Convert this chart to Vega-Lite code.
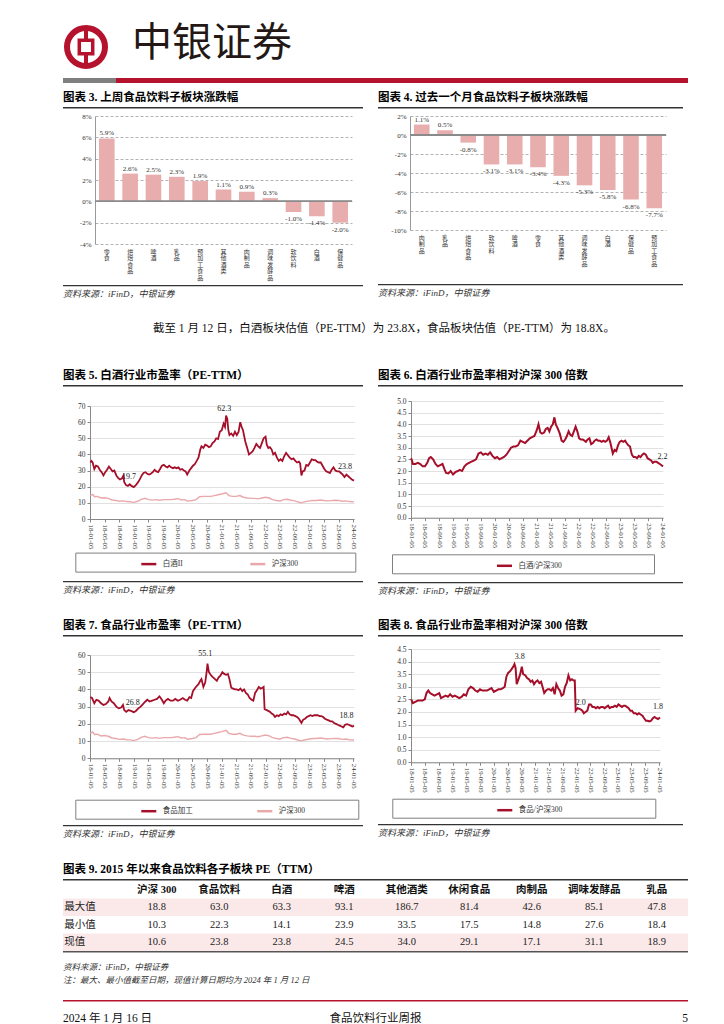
{
"$schema":"https://vega.github.io/schema/vega-lite/v6.json",
"background":"white",
"padding":{"left":55,"top":16,"right":10,"bottom":0},
"spacing":0,
"resolve":{"scale":{"color":"independent"},"legend":{"color":"independent"}},
"config":{"view":{"stroke":null},"concat":{"spacing":0},"font":"Liberation Serif, Noto Sans CJK SC",
"title":{"anchor":"start","frame":"group","font":"Liberation Serif, Noto Sans CJK SC","fontSize":11.5,"fontWeight":"bold","color":"#000","offset":4,"baseline":"bottom"},
"axis":{"labelFont":"Liberation Serif, Noto Sans CJK SC","labelColor":"#333","labelOverlap":false,"labelBound":false},
"legend":{"labelFont":"Liberation Serif, Noto Sans CJK SC","labelColor":"#333","titleFont":"Liberation Serif, Noto Sans CJK SC"},
"text":{"font":"Liberation Serif, Noto Sans CJK SC"},
"locale":{"number":{"decimal":".","thousands":",","grouping":[3],"currency":["",""],"minus":"-"}}},
"datasets":{
"w1":[{"k":"零食","v":0.059},{"k":"烘焙食品","v":0.026},{"k":"啤酒","v":0.025},{"k":"乳品","v":0.023},{"k":"预加工食品","v":0.019},{"k":"其他酒类","v":0.011},{"k":"肉制品","v":0.009},{"k":"调味发酵品","v":0.003},{"k":"软饮料","v":-0.010},{"k":"白酒","v":-0.014},{"k":"保健品","v":-0.020}],
"w4":[{"k":"肉制品","v":0.011},{"k":"乳品","v":0.005},{"k":"烘焙食品","v":-0.008},{"k":"软饮料","v":-0.031},{"k":"啤酒","v":-0.031},{"k":"零食","v":-0.034},{"k":"其他酒类","v":-0.043},{"k":"调味发酵品","v":-0.053},{"k":"白酒","v":-0.058},{"k":"保健品","v":-0.068},{"k":"预加工食品","v":-0.077}],
"bj":[{"d":"2018-01-05","v":35},{"d":"2018-01-15","v":36},{"d":"2018-01-25","v":35},{"d":"2018-02-08","v":31},{"d":"2018-02-22","v":33},{"d":"2018-03-10","v":32.5},{"d":"2018-03-25","v":30.5},{"d":"2018-04-10","v":29},{"d":"2018-04-25","v":27},{"d":"2018-05-10","v":29},{"d":"2018-05-25","v":30.5},{"d":"2018-06-10","v":32.5},{"d":"2018-06-25","v":31},{"d":"2018-07-10","v":29.5},{"d":"2018-07-25","v":30},{"d":"2018-08-10","v":27},{"d":"2018-08-25","v":25.5},{"d":"2018-09-10","v":24.5},{"d":"2018-09-25","v":25},{"d":"2018-10-08","v":26.8},{"d":"2018-10-15","v":23},{"d":"2018-10-30","v":21},{"d":"2018-11-15","v":20.5},{"d":"2018-11-30","v":21.5},{"d":"2018-12-15","v":20.5},{"d":"2019-01-03","v":19.7},{"d":"2019-01-20","v":21},{"d":"2019-02-10","v":23},{"d":"2019-02-25","v":25},{"d":"2019-03-10","v":27},{"d":"2019-03-25","v":28.5},{"d":"2019-04-10","v":29},{"d":"2019-04-25","v":28},{"d":"2019-05-10","v":27.5},{"d":"2019-05-25","v":28},{"d":"2019-06-10","v":29},{"d":"2019-06-25","v":30.5},{"d":"2019-07-10","v":29.5},{"d":"2019-07-25","v":29},{"d":"2019-08-10","v":31},{"d":"2019-08-25","v":33},{"d":"2019-09-10","v":33.5},{"d":"2019-09-25","v":32.5},{"d":"2019-10-10","v":32},{"d":"2019-10-25","v":33},{"d":"2019-11-10","v":32},{"d":"2019-11-25","v":31.5},{"d":"2019-12-10","v":32},{"d":"2019-12-25","v":31.5},{"d":"2020-01-10","v":32},{"d":"2020-01-25","v":30.5},{"d":"2020-02-10","v":31},{"d":"2020-02-25","v":30},{"d":"2020-03-10","v":29.5},{"d":"2020-03-23","v":27.5},{"d":"2020-04-10","v":30},{"d":"2020-04-25","v":31.5},{"d":"2020-05-10","v":33},{"d":"2020-05-25","v":34},{"d":"2020-06-10","v":36},{"d":"2020-06-25","v":38},{"d":"2020-07-10","v":43},{"d":"2020-07-20","v":45},{"d":"2020-08-05","v":44},{"d":"2020-08-20","v":46},{"d":"2020-09-05","v":45.5},{"d":"2020-09-20","v":44.5},{"d":"2020-10-05","v":45},{"d":"2020-10-20","v":47},{"d":"2020-11-05","v":48},{"d":"2020-11-20","v":50},{"d":"2020-12-05","v":49.5},{"d":"2020-12-20","v":54},{"d":"2021-01-05","v":55},{"d":"2021-01-20","v":59},{"d":"2021-02-01","v":57},{"d":"2021-02-10","v":64},{"d":"2021-02-20","v":62},{"d":"2021-03-01","v":55},{"d":"2021-03-10","v":52},{"d":"2021-03-25","v":53},{"d":"2021-04-10","v":51.5},{"d":"2021-04-25","v":54},{"d":"2021-05-10","v":52},{"d":"2021-05-25","v":54},{"d":"2021-06-08","v":60},{"d":"2021-06-20","v":57},{"d":"2021-07-01","v":55},{"d":"2021-07-20","v":48},{"d":"2021-08-05","v":44},{"d":"2021-08-20","v":40},{"d":"2021-09-05","v":41},{"d":"2021-09-20","v":42},{"d":"2021-10-05","v":44},{"d":"2021-10-20","v":46.5},{"d":"2021-11-05","v":45},{"d":"2021-11-20","v":44},{"d":"2021-12-05","v":47},{"d":"2021-12-20","v":50},{"d":"2022-01-05","v":51},{"d":"2022-01-15","v":46},{"d":"2022-01-28","v":44},{"d":"2022-02-10","v":44.5},{"d":"2022-02-25","v":43},{"d":"2022-03-10","v":40},{"d":"2022-03-25","v":41},{"d":"2022-04-10","v":38},{"d":"2022-04-25","v":36},{"d":"2022-05-10","v":37},{"d":"2022-05-25","v":36},{"d":"2022-06-10","v":39},{"d":"2022-06-25","v":41},{"d":"2022-07-10","v":39.5},{"d":"2022-07-25","v":38},{"d":"2022-08-10","v":37},{"d":"2022-08-25","v":37.5},{"d":"2022-09-10","v":36},{"d":"2022-09-25","v":35},{"d":"2022-10-10","v":35.5},{"d":"2022-10-20","v":34.5},{"d":"2022-10-31","v":27},{"d":"2022-11-10","v":29.5},{"d":"2022-11-25","v":30},{"d":"2022-12-10","v":33.5},{"d":"2022-12-25","v":33},{"d":"2023-01-10","v":35},{"d":"2023-01-25","v":37},{"d":"2023-02-10","v":36.5},{"d":"2023-02-25","v":36.5},{"d":"2023-03-10","v":35.5},{"d":"2023-03-25","v":35},{"d":"2023-04-10","v":35},{"d":"2023-04-25","v":33},{"d":"2023-05-10","v":31},{"d":"2023-05-25","v":29.5},{"d":"2023-06-10","v":29},{"d":"2023-06-25","v":28.5},{"d":"2023-07-10","v":30.5},{"d":"2023-07-25","v":32},{"d":"2023-08-10","v":30},{"d":"2023-08-25","v":29.5},{"d":"2023-09-10","v":29.5},{"d":"2023-09-25","v":28.5},{"d":"2023-10-10","v":27.5},{"d":"2023-10-25","v":26},{"d":"2023-11-10","v":27.5},{"d":"2023-11-25","v":26.5},{"d":"2023-12-10","v":25.5},{"d":"2023-12-25","v":24.5},{"d":"2024-01-12","v":23.8}],
"hs":[{"d":"2018-01-05","v":14.5},{"d":"2018-01-25","v":15.3},{"d":"2018-02-10","v":13.8},{"d":"2018-03-05","v":14},{"d":"2018-04-05","v":13},{"d":"2018-05-05","v":13.2},{"d":"2018-06-05","v":12.8},{"d":"2018-07-05","v":11.8},{"d":"2018-08-05","v":11.5},{"d":"2018-09-05","v":11},{"d":"2018-10-05","v":11.2},{"d":"2018-11-05","v":10.8},{"d":"2018-12-05","v":10.7},{"d":"2019-01-03","v":10.3},{"d":"2019-02-05","v":11},{"d":"2019-03-05","v":12.2},{"d":"2019-04-05","v":12.8},{"d":"2019-05-05","v":12},{"d":"2019-06-05","v":11.7},{"d":"2019-07-05","v":12},{"d":"2019-08-05","v":11.6},{"d":"2019-09-05","v":12},{"d":"2019-10-05","v":12},{"d":"2019-11-05","v":12},{"d":"2019-12-05","v":12.2},{"d":"2020-01-05","v":12.6},{"d":"2020-02-05","v":11.8},{"d":"2020-03-05","v":12},{"d":"2020-03-25","v":11},{"d":"2020-04-05","v":11.2},{"d":"2020-05-05","v":11.5},{"d":"2020-06-05","v":12},{"d":"2020-07-05","v":13.8},{"d":"2020-08-05","v":14},{"d":"2020-09-05","v":14},{"d":"2020-10-05","v":14},{"d":"2020-11-05","v":14.5},{"d":"2020-12-05","v":15},{"d":"2021-01-05","v":15.5},{"d":"2021-02-10","v":16.2},{"d":"2021-03-05","v":14.5},{"d":"2021-04-05","v":14},{"d":"2021-05-05","v":14},{"d":"2021-06-05","v":14.5},{"d":"2021-07-05","v":13.5},{"d":"2021-08-05","v":13},{"d":"2021-09-05","v":12.8},{"d":"2021-10-05","v":12.8},{"d":"2021-11-05","v":12.5},{"d":"2021-12-05","v":13},{"d":"2022-01-05","v":13.5},{"d":"2022-02-05","v":13},{"d":"2022-03-05","v":12},{"d":"2022-04-05","v":11.5},{"d":"2022-05-05","v":11.2},{"d":"2022-06-05","v":12},{"d":"2022-07-05","v":12.2},{"d":"2022-08-05","v":11.6},{"d":"2022-09-05","v":11.2},{"d":"2022-10-05","v":10.5},{"d":"2022-10-31","v":10},{"d":"2022-11-15","v":10.5},{"d":"2022-12-05","v":10.8},{"d":"2023-01-05","v":11.2},{"d":"2023-02-05","v":11.5},{"d":"2023-03-05","v":11.5},{"d":"2023-04-05","v":11.8},{"d":"2023-05-05","v":11.5},{"d":"2023-06-05","v":11.2},{"d":"2023-07-05","v":11.4},{"d":"2023-08-05","v":11.6},{"d":"2023-09-05","v":11.5},{"d":"2023-10-05","v":11},{"d":"2023-11-05","v":11.2},{"d":"2023-12-05","v":10.8},{"d":"2024-01-12","v":10.6}],
"bjr":[{"d":"2018-01-05","v":2.55},{"d":"2018-01-20","v":2.3},{"d":"2018-02-10","v":2.3},{"d":"2018-03-05","v":2.35},{"d":"2018-03-25","v":2.3},{"d":"2018-04-15","v":2.2},{"d":"2018-05-05","v":2.2},{"d":"2018-05-25","v":2.35},{"d":"2018-06-10","v":2.55},{"d":"2018-06-25","v":2.6},{"d":"2018-07-15","v":2.5},{"d":"2018-08-05","v":2.3},{"d":"2018-08-25","v":2.2},{"d":"2018-09-15","v":2.25},{"d":"2018-10-05","v":2.3},{"d":"2018-10-20","v":2.1},{"d":"2018-11-05","v":1.92},{"d":"2018-11-25","v":1.9},{"d":"2018-12-15","v":2.0},{"d":"2019-01-05","v":1.85},{"d":"2019-01-25","v":1.95},{"d":"2019-02-15","v":2.0},{"d":"2019-03-05","v":2.05},{"d":"2019-03-25","v":2.0},{"d":"2019-04-15","v":2.2},{"d":"2019-05-05","v":2.3},{"d":"2019-05-25","v":2.35},{"d":"2019-06-15","v":2.4},{"d":"2019-07-05","v":2.45},{"d":"2019-07-25","v":2.5},{"d":"2019-08-15","v":2.75},{"d":"2019-09-05","v":2.8},{"d":"2019-09-25","v":2.7},{"d":"2019-10-15","v":2.75},{"d":"2019-11-05","v":2.7},{"d":"2019-11-25","v":2.8},{"d":"2019-12-15","v":2.65},{"d":"2020-01-05","v":2.55},{"d":"2020-01-25","v":2.6},{"d":"2020-02-15","v":2.5},{"d":"2020-03-05","v":2.55},{"d":"2020-03-25","v":2.6},{"d":"2020-04-15","v":2.7},{"d":"2020-05-05","v":2.85},{"d":"2020-05-25","v":3.0},{"d":"2020-06-15","v":3.05},{"d":"2020-07-05","v":3.05},{"d":"2020-07-25","v":3.1},{"d":"2020-08-15","v":3.3},{"d":"2020-09-05","v":3.25},{"d":"2020-09-25","v":3.2},{"d":"2020-10-15","v":3.3},{"d":"2020-11-05","v":3.4},{"d":"2020-11-25","v":3.45},{"d":"2020-12-15","v":3.5},{"d":"2021-01-05","v":3.75},{"d":"2021-01-20","v":4.0},{"d":"2021-02-05","v":3.65},{"d":"2021-02-20","v":3.6},{"d":"2021-03-10","v":3.65},{"d":"2021-03-25","v":3.8},{"d":"2021-04-10","v":3.85},{"d":"2021-04-25","v":3.7},{"d":"2021-05-10","v":3.9},{"d":"2021-05-25","v":4.0},{"d":"2021-06-08","v":4.3},{"d":"2021-06-20","v":4.0},{"d":"2021-07-05","v":3.85},{"d":"2021-07-25","v":3.6},{"d":"2021-08-10","v":3.3},{"d":"2021-08-25","v":3.25},{"d":"2021-09-10","v":3.35},{"d":"2021-09-25","v":3.5},{"d":"2021-10-10","v":3.7},{"d":"2021-10-25","v":3.55},{"d":"2021-11-10","v":3.5},{"d":"2021-11-25","v":3.7},{"d":"2021-12-10","v":3.9},{"d":"2021-12-25","v":3.7},{"d":"2022-01-10","v":3.4},{"d":"2022-01-25","v":3.35},{"d":"2022-02-10","v":3.35},{"d":"2022-02-25","v":3.3},{"d":"2022-03-10","v":3.25},{"d":"2022-03-25","v":3.35},{"d":"2022-04-10","v":3.4},{"d":"2022-04-25","v":3.15},{"d":"2022-05-10","v":3.2},{"d":"2022-05-25","v":3.3},{"d":"2022-06-10","v":3.35},{"d":"2022-06-25","v":3.3},{"d":"2022-07-10","v":3.3},{"d":"2022-07-25","v":3.25},{"d":"2022-08-10","v":3.3},{"d":"2022-08-25","v":3.25},{"d":"2022-09-10","v":3.3},{"d":"2022-09-25","v":3.45},{"d":"2022-10-10","v":3.2},{"d":"2022-10-31","v":2.75},{"d":"2022-11-15","v":2.9},{"d":"2022-11-30","v":2.85},{"d":"2022-12-15","v":3.1},{"d":"2022-12-30","v":3.25},{"d":"2023-01-15","v":3.3},{"d":"2023-01-30","v":3.25},{"d":"2023-02-15","v":3.3},{"d":"2023-02-28","v":3.2},{"d":"2023-03-15","v":3.1},{"d":"2023-03-30","v":3.05},{"d":"2023-04-15","v":2.7},{"d":"2023-04-30","v":2.6},{"d":"2023-05-15","v":2.6},{"d":"2023-05-30","v":2.55},{"d":"2023-06-15","v":2.65},{"d":"2023-06-30","v":2.6},{"d":"2023-07-15","v":2.7},{"d":"2023-07-30","v":2.75},{"d":"2023-08-15","v":2.7},{"d":"2023-08-30","v":2.55},{"d":"2023-09-15","v":2.5},{"d":"2023-09-30","v":2.45},{"d":"2023-10-15","v":2.35},{"d":"2023-10-30","v":2.4},{"d":"2023-11-15","v":2.4},{"d":"2023-11-30","v":2.35},{"d":"2023-12-15","v":2.3},{"d":"2023-12-30","v":2.25},{"d":"2024-01-12","v":2.2}],
"sp":[{"d":"2018-01-05","v":35.5},{"d":"2018-01-20","v":35},{"d":"2018-02-08","v":32},{"d":"2018-02-25","v":34},{"d":"2018-03-15","v":33.5},{"d":"2018-04-05","v":32},{"d":"2018-04-25","v":31},{"d":"2018-05-15","v":31.5},{"d":"2018-06-05","v":33},{"d":"2018-06-15","v":35},{"d":"2018-07-01","v":33},{"d":"2018-07-20","v":32},{"d":"2018-08-10","v":30},{"d":"2018-08-30","v":29},{"d":"2018-09-20","v":29.5},{"d":"2018-10-05","v":31},{"d":"2018-10-15","v":28},{"d":"2018-11-01","v":27},{"d":"2018-11-20","v":28},{"d":"2018-12-10","v":27.5},{"d":"2019-01-03","v":26.8},{"d":"2019-01-20","v":27.5},{"d":"2019-02-10","v":29},{"d":"2019-03-01","v":30},{"d":"2019-03-20","v":31.5},{"d":"2019-04-10","v":33},{"d":"2019-04-25","v":34},{"d":"2019-05-15","v":33},{"d":"2019-06-05","v":33.5},{"d":"2019-06-25","v":34},{"d":"2019-07-15","v":34.5},{"d":"2019-08-05","v":36},{"d":"2019-08-25","v":34},{"d":"2019-09-10","v":32},{"d":"2019-09-25","v":33.5},{"d":"2019-10-15","v":34.5},{"d":"2019-11-05","v":33.5},{"d":"2019-11-25","v":33.5},{"d":"2019-12-15","v":34.5},{"d":"2020-01-05","v":33.5},{"d":"2020-01-25","v":34},{"d":"2020-02-15","v":35},{"d":"2020-03-05","v":34},{"d":"2020-03-23","v":33.5},{"d":"2020-04-10","v":35.5},{"d":"2020-04-25","v":35},{"d":"2020-05-10","v":39},{"d":"2020-05-25","v":40.5},{"d":"2020-06-10","v":42},{"d":"2020-06-25","v":43},{"d":"2020-07-10","v":45},{"d":"2020-07-20","v":46},{"d":"2020-08-05","v":41.5},{"d":"2020-08-20","v":44},{"d":"2020-09-01","v":50},{"d":"2020-09-08","v":55},{"d":"2020-09-20","v":50},{"d":"2020-10-10","v":48},{"d":"2020-10-25","v":47},{"d":"2020-11-10","v":46},{"d":"2020-11-25","v":45},{"d":"2020-12-10","v":47},{"d":"2020-12-25","v":48},{"d":"2021-01-10","v":50},{"d":"2021-01-25","v":49},{"d":"2021-02-10","v":48.5},{"d":"2021-02-25","v":49},{"d":"2021-03-10","v":46},{"d":"2021-03-25","v":41},{"d":"2021-04-10","v":40.5},{"d":"2021-04-25","v":40},{"d":"2021-05-10","v":40},{"d":"2021-05-25","v":39.5},{"d":"2021-06-10","v":40.5},{"d":"2021-06-25","v":39},{"d":"2021-07-10","v":40},{"d":"2021-07-25","v":38},{"d":"2021-08-10","v":37},{"d":"2021-08-25","v":35},{"d":"2021-09-10","v":34},{"d":"2021-09-25","v":33.5},{"d":"2021-10-10","v":38},{"d":"2021-10-25","v":39.5},{"d":"2021-11-10","v":41.5},{"d":"2021-11-25","v":40.5},{"d":"2021-12-10","v":41},{"d":"2021-12-20","v":41.5},{"d":"2021-12-28","v":28.5},{"d":"2022-01-15","v":28},{"d":"2022-02-10","v":27},{"d":"2022-02-25","v":26},{"d":"2022-03-10","v":25.5},{"d":"2022-03-25","v":24},{"d":"2022-04-10","v":25},{"d":"2022-04-25","v":24.5},{"d":"2022-05-10","v":25.5},{"d":"2022-05-25","v":25},{"d":"2022-06-10","v":26},{"d":"2022-06-25","v":25.5},{"d":"2022-07-10","v":27},{"d":"2022-07-25","v":25.5},{"d":"2022-08-10","v":25},{"d":"2022-08-25","v":25},{"d":"2022-09-10","v":24.5},{"d":"2022-09-25","v":24},{"d":"2022-10-10","v":23},{"d":"2022-10-31","v":20.5},{"d":"2022-11-15","v":22.5},{"d":"2022-11-30","v":23},{"d":"2022-12-15","v":24},{"d":"2022-12-30","v":24.5},{"d":"2023-01-15","v":25},{"d":"2023-01-30","v":24.5},{"d":"2023-02-15","v":25},{"d":"2023-02-28","v":25},{"d":"2023-03-15","v":25},{"d":"2023-03-30","v":24.5},{"d":"2023-04-15","v":24.5},{"d":"2023-04-30","v":24},{"d":"2023-05-15","v":23},{"d":"2023-05-30","v":22.5},{"d":"2023-06-15","v":22},{"d":"2023-06-30","v":21.5},{"d":"2023-07-15","v":21.5},{"d":"2023-07-30","v":20.5},{"d":"2023-08-15","v":20},{"d":"2023-08-30","v":19.5},{"d":"2023-09-15","v":19},{"d":"2023-09-30","v":18.5},{"d":"2023-10-15","v":18},{"d":"2023-10-30","v":19.5},{"d":"2023-11-15","v":19.8},{"d":"2023-11-30","v":19.5},{"d":"2023-12-15","v":19},{"d":"2023-12-30","v":18.5},{"d":"2024-01-12","v":18.8}],
"spr":[{"d":"2018-01-05","v":2.5},{"d":"2018-01-20","v":2.35},{"d":"2018-02-10","v":2.4},{"d":"2018-03-05","v":2.45},{"d":"2018-03-25","v":2.45},{"d":"2018-04-15","v":2.45},{"d":"2018-05-05","v":2.5},{"d":"2018-05-20","v":2.75},{"d":"2018-06-05","v":2.85},{"d":"2018-06-20","v":2.75},{"d":"2018-07-10","v":2.7},{"d":"2018-07-30","v":2.65},{"d":"2018-08-20","v":2.7},{"d":"2018-09-10","v":2.75},{"d":"2018-09-25","v":2.55},{"d":"2018-10-15","v":2.6},{"d":"2018-11-05","v":2.65},{"d":"2018-11-25","v":2.6},{"d":"2018-12-15","v":2.7},{"d":"2019-01-05","v":2.6},{"d":"2019-01-25","v":2.65},{"d":"2019-02-15","v":2.6},{"d":"2019-03-05","v":2.55},{"d":"2019-03-25","v":2.6},{"d":"2019-04-15","v":2.7},{"d":"2019-05-05","v":2.65},{"d":"2019-05-25","v":2.9},{"d":"2019-06-15","v":3.0},{"d":"2019-07-05","v":2.95},{"d":"2019-07-25","v":2.85},{"d":"2019-08-15","v":2.8},{"d":"2019-09-05","v":2.9},{"d":"2019-09-25","v":2.85},{"d":"2019-10-15","v":2.85},{"d":"2019-11-05","v":2.85},{"d":"2019-11-25","v":2.9},{"d":"2019-12-15","v":2.95},{"d":"2020-01-05","v":2.8},{"d":"2020-01-25","v":2.85},{"d":"2020-02-15","v":2.9},{"d":"2020-03-05","v":2.9},{"d":"2020-03-25","v":2.95},{"d":"2020-04-10","v":3.0},{"d":"2020-04-25","v":3.4},{"d":"2020-05-10","v":3.55},{"d":"2020-05-25","v":3.6},{"d":"2020-06-10","v":3.7},{"d":"2020-06-25","v":3.8},{"d":"2020-07-05","v":3.9},{"d":"2020-07-15","v":3.75},{"d":"2020-07-25","v":3.1},{"d":"2020-08-10","v":3.3},{"d":"2020-08-25","v":3.5},{"d":"2020-09-08","v":3.8},{"d":"2020-09-20","v":3.5},{"d":"2020-10-10","v":3.45},{"d":"2020-10-25","v":3.35},{"d":"2020-11-10","v":3.3},{"d":"2020-11-25","v":3.2},{"d":"2020-12-10","v":3.25},{"d":"2020-12-25","v":3.1},{"d":"2021-01-10","v":3.2},{"d":"2021-01-25","v":3.25},{"d":"2021-02-10","v":3.15},{"d":"2021-02-25","v":3.2},{"d":"2021-03-10","v":3.0},{"d":"2021-03-25","v":2.75},{"d":"2021-04-10","v":2.85},{"d":"2021-04-25","v":2.9},{"d":"2021-05-10","v":2.9},{"d":"2021-05-25","v":2.85},{"d":"2021-06-10","v":2.95},{"d":"2021-06-25","v":2.7},{"d":"2021-07-10","v":3.1},{"d":"2021-07-25","v":2.95},{"d":"2021-08-10","v":2.85},{"d":"2021-08-25","v":2.65},{"d":"2021-09-10","v":2.7},{"d":"2021-09-25","v":3.0},{"d":"2021-10-10","v":3.15},{"d":"2021-10-25","v":3.45},{"d":"2021-11-10","v":3.25},{"d":"2021-11-25","v":3.3},{"d":"2021-12-10","v":3.25},{"d":"2021-12-20","v":3.25},{"d":"2021-12-28","v":2.05},{"d":"2022-01-15","v":2.15},{"d":"2022-02-10","v":2.1},{"d":"2022-02-25","v":2.05},{"d":"2022-03-10","v":1.95},{"d":"2022-03-25","v":2.0},{"d":"2022-04-10","v":2.05},{"d":"2022-04-25","v":2.3},{"d":"2022-05-10","v":2.3},{"d":"2022-05-25","v":2.2},{"d":"2022-06-10","v":2.2},{"d":"2022-06-25","v":2.15},{"d":"2022-07-10","v":2.2},{"d":"2022-07-25","v":2.15},{"d":"2022-08-10","v":2.2},{"d":"2022-08-25","v":2.2},{"d":"2022-09-10","v":2.15},{"d":"2022-09-25","v":2.2},{"d":"2022-10-10","v":2.25},{"d":"2022-10-25","v":2.15},{"d":"2022-11-10","v":2.2},{"d":"2022-11-25","v":2.2},{"d":"2022-12-10","v":2.25},{"d":"2022-12-25","v":2.2},{"d":"2023-01-10","v":2.3},{"d":"2023-01-25","v":2.25},{"d":"2023-02-10","v":2.2},{"d":"2023-02-25","v":2.25},{"d":"2023-03-10","v":2.25},{"d":"2023-03-25","v":2.2},{"d":"2023-04-10","v":2.15},{"d":"2023-04-25","v":2.05},{"d":"2023-05-10","v":2.05},{"d":"2023-05-25","v":1.95},{"d":"2023-06-10","v":1.95},{"d":"2023-06-25","v":1.9},{"d":"2023-07-10","v":1.95},{"d":"2023-07-25","v":1.9},{"d":"2023-08-10","v":1.85},{"d":"2023-08-25","v":1.75},{"d":"2023-09-10","v":1.65},{"d":"2023-09-25","v":1.65},{"d":"2023-10-10","v":1.62},{"d":"2023-10-25","v":1.65},{"d":"2023-11-10","v":1.75},{"d":"2023-11-25","v":1.8},{"d":"2023-12-10","v":1.75},{"d":"2023-12-25","v":1.72},{"d":"2024-01-12","v":1.78}],
"a5":[{"d":"2021-01-25","v":68.3,"t":"62.3"},{"d":"2018-11-25","v":26,"t":"19.7"},{"d":"2023-10-30","v":32.3,"t":"23.8"}],
"a6":[{"d":"2024-01-08","v":2.61,"t":"2.2"}],
"a7":[{"d":"2020-08-20","v":60.5,"t":"55.1"},{"d":"2018-12-25","v":32.3,"t":"26.8"},{"d":"2023-11-10","v":24.8,"t":"18.8"}],
"a8":[{"d":"2020-08-20","v":4.17,"t":"3.8"},{"d":"2022-02-10","v":2.34,"t":"2.0"},{"d":"2023-12-25","v":2.19,"t":"1.8"}],
"tbl":[{"r":"最大值","c":"沪深 300","v":18.8},{"r":"最小值","c":"沪深 300","v":10.3},{"r":"现值","c":"沪深 300","v":10.6},
{"r":"最大值","c":"食品饮料","v":63.0},{"r":"最小值","c":"食品饮料","v":22.3},{"r":"现值","c":"食品饮料","v":23.8},
{"r":"最大值","c":"白酒","v":63.3},{"r":"最小值","c":"白酒","v":14.1},{"r":"现值","c":"白酒","v":23.8},
{"r":"最大值","c":"啤酒","v":93.1},{"r":"最小值","c":"啤酒","v":23.9},{"r":"现值","c":"啤酒","v":24.5},
{"r":"最大值","c":"其他酒类","v":186.7},{"r":"最小值","c":"其他酒类","v":33.5},{"r":"现值","c":"其他酒类","v":34.0},
{"r":"最大值","c":"休闲食品","v":81.4},{"r":"最小值","c":"休闲食品","v":17.5},{"r":"现值","c":"休闲食品","v":29.1},
{"r":"最大值","c":"肉制品","v":42.6},{"r":"最小值","c":"肉制品","v":14.8},{"r":"现值","c":"肉制品","v":17.1},
{"r":"最大值","c":"调味发酵品","v":85.1},{"r":"最小值","c":"调味发酵品","v":27.6},{"r":"现值","c":"调味发酵品","v":31.1},
{"r":"最大值","c":"乳品","v":47.8},{"r":"最小值","c":"乳品","v":18.4},{"r":"现值","c":"乳品","v":18.9}]
},
"vconcat":[
{"hconcat":[
 {"width":46,"height":46,"data":{"values":[{}]},"layer":[
  {"mark":{"type":"point","shape":"circle","size":1444,"filled":false,"stroke":"#b5122e","strokeWidth":6,"opacity":1}},
  {"mark":{"type":"point","shape":"stroke","angle":90,"size":1444,"filled":false,"stroke":"#b5122e","strokeWidth":4,"opacity":1}},
  {"mark":{"type":"point","shape":"square","size":180,"filled":true,"fill":"#ffffff","stroke":"#b5122e","strokeWidth":3.5,"opacity":1}}
 ]},
 {"width":180,"height":46,"data":{"values":[{"t":"中银证券"}]},"mark":{"type":"text","font":"Noto Sans CJK SC","fontSize":40,"dy":-3,"color":"#231815","align":"center","baseline":"middle"},"encoding":{"text":{"field":"t"}}}
],"spacing":5},
{"hconcat":[
 {"width":53,"height":5,"data":{"values":[{}]},"mark":{"type":"rect","color":"#7f7f7f"}},
 {"width":572,"height":5,"data":{"values":[{}]},"mark":{"type":"rect","color":"#b5122e"}}
],"spacing":0},
{"width":1,"height":8,"data":{"values":[{}]},"mark":{"type":"rect","opacity":0}},
{"hconcat":[
 {"vconcat":[
  {"width":300,"height":1.5,"data":{"values":[{}]},"mark":{"type":"rect","color":"#333"},"title":{"text":"图表 3. 上周食品饮料子板块涨跌幅"}},
  {"width":1,"height":3,"data":{"values":[{}]},"mark":{"type":"rect","opacity":0}},
  {"hconcat":[
   {"width":1,"height":1,"data":{"values":[{}]},"mark":{"type":"rect","opacity":0}},
   {"width":257,"height":128,"data":{"name":"w1"},
   "layer":[
    {"mark":{"type":"bar","color":"#e8aeae"},"encoding":{
      "x":{"field":"k","type":"nominal","sort":null,"scale":{"paddingInner":0.33,"paddingOuter":0.17},"axis":{"title":null,"domain":false,"ticks":false,"labelAngle":0,"labelExpr":"split(datum.label,'')","labelFont":"Noto Sans CJK SC","labelFontSize":6,"labelLineHeight":6.6,"labelBaseline":"top","labelPadding":4,"labelOverlap":false,"minExtent":36,"maxExtent":36}},
      "y":{"field":"v","type":"quantitative","scale":{"domain":[-0.04,0.08]},"axis":{"title":null,"values":[-0.04,-0.02,0,0.02,0.04,0.06,0.08],"tickCount":100,"format":".0%","grid":true,"gridDash":[3,2],"gridColor":"#808080","gridWidth":0.6,"domainColor":"#999","ticks":false,"labelFontSize":7,"labelPadding":4,"labelOverlap":false,"minExtent":31,"maxExtent":31}}}},
    {"transform":[{"filter":"datum.v>=0"}],"mark":{"type":"text","baseline":"bottom","dy":-2,"fontSize":7,"color":"#333"},"encoding":{"x":{"field":"k","type":"nominal","sort":null},"y":{"field":"v","type":"quantitative"},"text":{"field":"v","format":".1%"}}},
    {"transform":[{"filter":"datum.v<0"}],"mark":{"type":"text","baseline":"top","dy":3,"fontSize":7,"color":"#333"},"encoding":{"x":{"field":"k","type":"nominal","sort":null},"y":{"field":"v","type":"quantitative"},"text":{"field":"v","format":".1%"}}},
    {"mark":{"type":"rule","color":"#8c8c8c","strokeWidth":0.8},"encoding":{"y":{"datum":0,"type":"quantitative"}}}
   ]}
  ],"spacing":0},
  {"width":1,"height":4,"data":{"values":[{}]},"mark":{"type":"rect","opacity":0}},
  {"width":300,"height":1.2,"data":{"values":[{}]},"mark":{"type":"rect","color":"#333"},"title":{"text":"资料来源：iFinD，中银证券","orient":"bottom","baseline":"top","fontWeight":"normal","fontStyle":"italic","fontSize":9,"color":"#333","offset":4}}
 ],"spacing":0},
 {"vconcat":[
  {"width":305,"height":1.5,"data":{"values":[{}]},"mark":{"type":"rect","color":"#333"},"title":{"text":"图表 4. 过去一个月食品饮料子板块涨跌幅"}},
  {"width":1,"height":3,"data":{"values":[{}]},"mark":{"type":"rect","opacity":0}},
  {"hconcat":[
   {"width":1,"height":1,"data":{"values":[{}]},"mark":{"type":"rect","opacity":0}},
   {"width":256,"height":114,"data":{"name":"w4"},
   "layer":[
    {"mark":{"type":"bar","color":"#e8aeae"},"encoding":{
      "x":{"field":"k","type":"nominal","sort":null,"scale":{"paddingInner":0.33,"paddingOuter":0.17},"axis":{"title":null,"domain":false,"ticks":false,"labelAngle":0,"labelExpr":"split(datum.label,'')","labelFont":"Noto Sans CJK SC","labelFontSize":6,"labelLineHeight":6.6,"labelBaseline":"top","labelPadding":4,"labelOverlap":false,"minExtent":50,"maxExtent":50}},
      "y":{"field":"v","type":"quantitative","scale":{"domain":[-0.1,0.02]},"axis":{"title":null,"values":[-0.1,-0.08,-0.06,-0.04,-0.02,0,0.02],"tickCount":100,"format":".0%","grid":true,"gridDash":[3,2],"gridColor":"#808080","gridWidth":0.6,"domainColor":"#999","ticks":false,"labelFontSize":7,"labelPadding":4,"labelOverlap":false,"minExtent":31,"maxExtent":31}}}},
    {"transform":[{"filter":"datum.v>=0"}],"mark":{"type":"text","baseline":"bottom","dy":-2,"fontSize":7,"color":"#333"},"encoding":{"x":{"field":"k","type":"nominal","sort":null},"y":{"field":"v","type":"quantitative"},"text":{"field":"v","format":".1%"}}},
    {"transform":[{"filter":"datum.v<0"}],"mark":{"type":"text","baseline":"top","dy":3,"fontSize":7,"color":"#333"},"encoding":{"x":{"field":"k","type":"nominal","sort":null},"y":{"field":"v","type":"quantitative"},"text":{"field":"v","format":".1%"}}},
    {"mark":{"type":"rule","color":"#8c8c8c","strokeWidth":0.8},"encoding":{"y":{"datum":0,"type":"quantitative"}}}
   ]}
  ],"spacing":0},
  {"width":1,"height":4,"data":{"values":[{}]},"mark":{"type":"rect","opacity":0}},
  {"width":305,"height":1.2,"data":{"values":[{}]},"mark":{"type":"rect","color":"#333"},"title":{"text":"资料来源：iFinD，中银证券","orient":"bottom","baseline":"top","fontWeight":"normal","fontStyle":"italic","fontSize":9,"color":"#333","offset":4}}
 ],"spacing":0}
],"spacing":15},
{"width":1,"height":22,"data":{"values":[{}]},"mark":{"type":"rect","opacity":0}},
{"width":625,"height":1,"data":{"values":[{}]},"mark":{"type":"rect","opacity":0},"title":{"text":"截至 1 月 12 日，白酒板块估值（PE-TTM）为 23.8X，食品板块估值（PE-TTM）为 18.8X。","fontWeight":"normal","fontSize":11.5,"color":"#111","dx":90,"offset":0}},
{"width":1,"height":34,"data":{"values":[{}]},"mark":{"type":"rect","opacity":0}},
{"hconcat":[
 {"vconcat":[
  {"width":300,"height":1.5,"data":{"values":[{}]},"mark":{"type":"rect","color":"#333"},"title":{"text":"图表 5. 白酒行业市盈率（PE-TTM）"}},
  {"width":1,"height":15,"data":{"values":[{}]},"mark":{"type":"rect","opacity":0}},
  {"hconcat":[
   {"width":1,"height":1,"data":{"values":[{}]},"mark":{"type":"rect","opacity":0}},
   {"width":264,"height":113,"layer":[
    {"data":{"name":"hs"},"mark":{"type":"line","strokeWidth":1.4},"encoding":{
      "x":{"field":"d","type":"temporal","scale":{"domain":[{"year":2018,"month":1,"date":3},{"year":2024,"month":1,"date":12}]},"axis":{"title":null,"values":[{"year":2018,"month":1,"date":5},{"year":2018,"month":5,"date":5},{"year":2018,"month":9,"date":5},{"year":2019,"month":1,"date":5},{"year":2019,"month":5,"date":5},{"year":2019,"month":9,"date":5},{"year":2020,"month":1,"date":5},{"year":2020,"month":5,"date":5},{"year":2020,"month":9,"date":5},{"year":2021,"month":1,"date":5},{"year":2021,"month":5,"date":5},{"year":2021,"month":9,"date":5},{"year":2022,"month":1,"date":5},{"year":2022,"month":5,"date":5},{"year":2022,"month":9,"date":5},{"year":2023,"month":1,"date":5},{"year":2023,"month":5,"date":5},{"year":2023,"month":9,"date":5},{"year":2024,"month":1,"date":5}],"tickCount":100,"format":"%y-%m-%d","labelAngle":90,"labelFontSize":6.8,"labelPadding":2,"labelFlush":false,"labelOverlap":false,"tickSize":3,"tickColor":"#888","domainColor":"#888","grid":false,"minExtent":28,"maxExtent":28}},
      "y":{"field":"v","type":"quantitative","scale":{"domain":[0,70]},"axis":{"title":null,"values":[0,10,20,30,40,50,60,70],"tickCount":100,"format":"d","labelOverlap":false,"grid":true,"gridColor":"#d9d9d9","gridWidth":0.8,"domainColor":"#888","tickColor":"#888","tickSize":3,"labelFontSize":7.5,"labelPadding":2,"minExtent":26,"maxExtent":26}},
      "color":{"datum":"沪深300","type":"nominal","scale":{"domain":["白酒II","沪深300"],"range":["#a50f2a","#e9a9ab"]},"legend":{"orient":"none","legendX":-14.7,"legendY":146.6,"direction":"horizontal","title":" ","titleOrient":"right","titleFontSize":7.5,"titlePadding":55,"strokeColor":"#7f7f7f","fillColor":"#ffffff","padding":2.5,"symbolType":"stroke","symbolSize":225,"symbolStrokeWidth":2.5,"symbolOffset":62,"labelOffset":5,"labelFontSize":7.5,"columnPadding":4}}}},
    {"data":{"name":"bj"},"mark":{"type":"line","strokeWidth":1.8},"encoding":{"x":{"field":"d","type":"temporal"},"y":{"field":"v","type":"quantitative"},"color":{"datum":"白酒II","type":"nominal"}}},
    {"data":{"name":"a5"},"mark":{"type":"text","fontSize":8,"color":"#222"},"encoding":{"x":{"field":"d","type":"temporal"},"y":{"field":"v","type":"quantitative"},"text":{"field":"t"}}}
   ]}
  ],"spacing":0,"resolve":{"scale":{"color":"independent"},"legend":{"color":"independent"}}},
  {"width":1,"height":7.5,"data":{"values":[{}]},"mark":{"type":"rect","opacity":0}},
  {"width":300,"height":1.2,"data":{"values":[{}]},"mark":{"type":"rect","color":"#333"},"title":{"text":"资料来源：iFinD，中银证券","orient":"bottom","baseline":"top","fontWeight":"normal","fontStyle":"italic","fontSize":9,"color":"#333","offset":4}}
 ],"spacing":0,"resolve":{"scale":{"color":"independent"},"legend":{"color":"independent"}}},
 {"vconcat":[
  {"width":305,"height":1.5,"data":{"values":[{}]},"mark":{"type":"rect","color":"#333"},"title":{"text":"图表 6. 白酒行业市盈率相对沪深 300 倍数"}},
  {"width":1,"height":9.7,"data":{"values":[{}]},"mark":{"type":"rect","opacity":0}},
  {"hconcat":[
   {"width":1,"height":1,"data":{"values":[{}]},"mark":{"type":"rect","opacity":0}},
   {"width":252,"height":116.7,"layer":[
    {"data":{"name":"bjr"},"mark":{"type":"line","strokeWidth":2},"encoding":{
      "x":{"field":"d","type":"temporal","scale":{"domain":[{"year":2018,"month":1,"date":3},{"year":2024,"month":1,"date":12}]},"axis":{"title":null,"values":[{"year":2018,"month":1,"date":5},{"year":2018,"month":5,"date":5},{"year":2018,"month":9,"date":5},{"year":2019,"month":1,"date":5},{"year":2019,"month":5,"date":5},{"year":2019,"month":9,"date":5},{"year":2020,"month":1,"date":5},{"year":2020,"month":5,"date":5},{"year":2020,"month":9,"date":5},{"year":2021,"month":1,"date":5},{"year":2021,"month":5,"date":5},{"year":2021,"month":9,"date":5},{"year":2022,"month":1,"date":5},{"year":2022,"month":5,"date":5},{"year":2022,"month":9,"date":5},{"year":2023,"month":1,"date":5},{"year":2023,"month":5,"date":5},{"year":2023,"month":9,"date":5},{"year":2024,"month":1,"date":5}],"tickCount":100,"format":"%y-%m-%d","labelAngle":90,"labelFontSize":6.8,"labelPadding":2,"labelFlush":false,"labelOverlap":false,"tickSize":3,"tickColor":"#888","domainColor":"#888","grid":false,"minExtent":29.6,"maxExtent":29.6}},
      "y":{"field":"v","type":"quantitative","scale":{"domain":[0,5]},"axis":{"title":null,"values":[0,0.5,1,1.5,2,2.5,3,3.5,4,4.5,5],"tickCount":100,"labelOverlap":false,"format":".1f","grid":true,"gridColor":"#d9d9d9","gridWidth":0.8,"domainColor":"#888","tickColor":"#888","tickSize":3,"labelFontSize":7.5,"labelPadding":2,"minExtent":32,"maxExtent":32}},
      "color":{"datum":"白酒/沪深300","type":"nominal","scale":{"domain":["白酒/沪深300"],"range":["#a50f2a"]},"legend":{"orient":"none","legendX":-19,"legendY":153.3,"direction":"horizontal","title":" ","titleOrient":"right","titleFontSize":7.5,"titlePadding":90,"strokeColor":"#7f7f7f","fillColor":"#ffffff","padding":2.5,"symbolType":"stroke","symbolSize":225,"symbolStrokeWidth":2.5,"symbolOffset":101,"labelOffset":5,"labelFontSize":7.5}}}},
    {"data":{"name":"a6"},"mark":{"type":"text","fontSize":8,"color":"#222"},"encoding":{"x":{"field":"d","type":"temporal"},"y":{"field":"v","type":"quantitative"},"text":{"field":"t"}}}
   ]}
  ],"spacing":0,"resolve":{"scale":{"color":"independent"},"legend":{"color":"independent"}}},
  {"width":1,"height":7.5,"data":{"values":[{}]},"mark":{"type":"rect","opacity":0}},
  {"width":305,"height":1.2,"data":{"values":[{}]},"mark":{"type":"rect","color":"#333"},"title":{"text":"资料来源：iFinD，中银证券","orient":"bottom","baseline":"top","fontWeight":"normal","fontStyle":"italic","fontSize":9,"color":"#333","offset":4}}
 ],"spacing":0,"resolve":{"scale":{"color":"independent"},"legend":{"color":"independent"}}}
],"spacing":15,"resolve":{"scale":{"color":"independent"},"legend":{"color":"independent"}}},
{"width":1,"height":21.3,"data":{"values":[{}]},"mark":{"type":"rect","opacity":0}},
{"hconcat":[
 {"vconcat":[
  {"width":300,"height":1.5,"data":{"values":[{}]},"mark":{"type":"rect","color":"#333"},"title":{"text":"图表 7. 食品行业市盈率（PE-TTM）"}},
  {"width":1,"height":12.5,"data":{"values":[{}]},"mark":{"type":"rect","opacity":0}},
  {"hconcat":[
   {"width":1,"height":1,"data":{"values":[{}]},"mark":{"type":"rect","opacity":0}},
   {"width":264,"height":103.3,"layer":[
    {"data":{"name":"hs"},"mark":{"type":"line","strokeWidth":1.4},"encoding":{
      "x":{"field":"d","type":"temporal","scale":{"domain":[{"year":2018,"month":1,"date":3},{"year":2024,"month":1,"date":12}]},"axis":{"title":null,"values":[{"year":2018,"month":1,"date":5},{"year":2018,"month":5,"date":5},{"year":2018,"month":9,"date":5},{"year":2019,"month":1,"date":5},{"year":2019,"month":5,"date":5},{"year":2019,"month":9,"date":5},{"year":2020,"month":1,"date":5},{"year":2020,"month":5,"date":5},{"year":2020,"month":9,"date":5},{"year":2021,"month":1,"date":5},{"year":2021,"month":5,"date":5},{"year":2021,"month":9,"date":5},{"year":2022,"month":1,"date":5},{"year":2022,"month":5,"date":5},{"year":2022,"month":9,"date":5},{"year":2023,"month":1,"date":5},{"year":2023,"month":5,"date":5},{"year":2023,"month":9,"date":5},{"year":2024,"month":1,"date":5}],"tickCount":100,"format":"%y-%m-%d","labelAngle":90,"labelFontSize":6.8,"labelPadding":2,"labelFlush":false,"labelOverlap":false,"tickSize":3,"tickColor":"#888","domainColor":"#888","grid":false,"minExtent":31,"maxExtent":31}},
      "y":{"field":"v","type":"quantitative","scale":{"domain":[0,60]},"axis":{"title":null,"values":[0,10,20,30,40,50,60],"tickCount":100,"format":"d","labelOverlap":false,"grid":true,"gridColor":"#d9d9d9","gridWidth":0.8,"domainColor":"#888","tickColor":"#888","tickSize":3,"labelFontSize":7.5,"labelPadding":2,"minExtent":26,"maxExtent":26}},
      "color":{"datum":"沪深300","type":"nominal","scale":{"domain":["食品加工","沪深300"],"range":["#a50f2a","#e9a9ab"]},"legend":{"orient":"none","legendX":-14.7,"legendY":144.7,"direction":"horizontal","title":" ","titleOrient":"right","titleFontSize":7.5,"titlePadding":51,"strokeColor":"#7f7f7f","fillColor":"#ffffff","padding":2.5,"symbolType":"stroke","symbolSize":225,"symbolStrokeWidth":2.5,"symbolOffset":62,"labelOffset":5,"labelFontSize":7.5,"columnPadding":1}}}},
    {"data":{"name":"sp"},"mark":{"type":"line","strokeWidth":1.8},"encoding":{"x":{"field":"d","type":"temporal"},"y":{"field":"v","type":"quantitative"},"color":{"datum":"食品加工","type":"nominal"}}},
    {"data":{"name":"a7"},"mark":{"type":"text","fontSize":8,"color":"#222"},"encoding":{"x":{"field":"d","type":"temporal"},"y":{"field":"v","type":"quantitative"},"text":{"field":"t"}}}
   ]}
  ],"spacing":0,"resolve":{"scale":{"color":"independent"},"legend":{"color":"independent"}}},
  {"width":1,"height":4.8,"data":{"values":[{}]},"mark":{"type":"rect","opacity":0}},
  {"width":300,"height":1.2,"data":{"values":[{}]},"mark":{"type":"rect","color":"#333"},"title":{"text":"资料来源：iFinD，中银证券","orient":"bottom","baseline":"top","fontWeight":"normal","fontStyle":"italic","fontSize":9,"color":"#333","offset":4}}
 ],"spacing":0,"resolve":{"scale":{"color":"independent"},"legend":{"color":"independent"}}},
 {"vconcat":[
  {"width":305,"height":1.5,"data":{"values":[{}]},"mark":{"type":"rect","color":"#333"},"title":{"text":"图表 8. 食品行业市盈率相对沪深 300 倍数"}},
  {"width":1,"height":7.5,"data":{"values":[{}]},"mark":{"type":"rect","opacity":0}},
  {"hconcat":[
   {"width":1,"height":1,"data":{"values":[{}]},"mark":{"type":"rect","opacity":0}},
   {"width":249,"height":113.3,"layer":[
    {"data":{"name":"spr"},"mark":{"type":"line","strokeWidth":2},"encoding":{
      "x":{"field":"d","type":"temporal","scale":{"domain":[{"year":2018,"month":1,"date":3},{"year":2024,"month":1,"date":12}]},"axis":{"title":null,"values":[{"year":2018,"month":1,"date":5},{"year":2018,"month":5,"date":5},{"year":2018,"month":9,"date":5},{"year":2019,"month":1,"date":5},{"year":2019,"month":5,"date":5},{"year":2019,"month":9,"date":5},{"year":2020,"month":1,"date":5},{"year":2020,"month":5,"date":5},{"year":2020,"month":9,"date":5},{"year":2021,"month":1,"date":5},{"year":2021,"month":5,"date":5},{"year":2021,"month":9,"date":5},{"year":2022,"month":1,"date":5},{"year":2022,"month":5,"date":5},{"year":2022,"month":9,"date":5},{"year":2023,"month":1,"date":5},{"year":2023,"month":5,"date":5},{"year":2023,"month":9,"date":5},{"year":2024,"month":1,"date":5}],"tickCount":100,"format":"%y-%m-%d","labelAngle":90,"labelFontSize":6.8,"labelPadding":2,"labelFlush":false,"labelOverlap":false,"tickSize":3,"tickColor":"#888","domainColor":"#888","grid":false,"minExtent":31,"maxExtent":31}},
      "y":{"field":"v","type":"quantitative","scale":{"domain":[0,4.5]},"axis":{"title":null,"values":[0,0.5,1,1.5,2,2.5,3,3.5,4,4.5],"tickCount":100,"labelOverlap":false,"format":".1f","grid":true,"gridColor":"#d9d9d9","gridWidth":0.8,"domainColor":"#888","tickColor":"#888","tickSize":3,"labelFontSize":7.5,"labelPadding":2,"minExtent":32,"maxExtent":32}},
      "color":{"datum":"食品/沪深300","type":"nominal","scale":{"domain":["食品/沪深300"],"range":["#a50f2a"]},"legend":{"orient":"none","legendX":-18.7,"legendY":149.7,"direction":"horizontal","title":" ","titleOrient":"right","titleFontSize":7.5,"titlePadding":91,"strokeColor":"#7f7f7f","fillColor":"#ffffff","padding":2.5,"symbolType":"stroke","symbolSize":225,"symbolStrokeWidth":2.5,"symbolOffset":101,"labelOffset":5,"labelFontSize":7.5}}}},
    {"data":{"name":"a8"},"mark":{"type":"text","fontSize":8,"color":"#222"},"encoding":{"x":{"field":"d","type":"temporal"},"y":{"field":"v","type":"quantitative"},"text":{"field":"t"}}}
   ]}
  ],"spacing":0,"resolve":{"scale":{"color":"independent"},"legend":{"color":"independent"}}},
  {"width":1,"height":4.8,"data":{"values":[{}]},"mark":{"type":"rect","opacity":0}},
  {"width":305,"height":1.2,"data":{"values":[{}]},"mark":{"type":"rect","color":"#333"},"title":{"text":"资料来源：iFinD，中银证券","orient":"bottom","baseline":"top","fontWeight":"normal","fontStyle":"italic","fontSize":9,"color":"#333","offset":4}}
 ],"spacing":0,"resolve":{"scale":{"color":"independent"},"legend":{"color":"independent"}}}
],"spacing":15,"resolve":{"scale":{"color":"independent"},"legend":{"color":"independent"}}},
{"width":1,"height":23,"data":{"values":[{}]},"mark":{"type":"rect","opacity":0}},
{"width":625,"height":1.5,"data":{"values":[{}]},"mark":{"type":"rect","color":"#333"},"title":{"text":"图表 9. 2015 年以来食品饮料各子板块 PE（TTM）"}},
{"width":625,"height":70,"data":{"name":"tbl"},"layer":[
  {"transform":[{"aggregate":[{"op":"count","as":"n"}],"groupby":["r"]},{"filter":"datum.r != '最小值'"}],"mark":{"type":"rect","color":"#fbe9ea"},"encoding":{"y":{"field":"r","type":"nominal","scale":{"domain":["h","最大值","最小值","现值"],"paddingInner":0,"paddingOuter":0},"axis":null}}},
  {"mark":{"type":"text","fontSize":10.5,"color":"#222","font":"Liberation Serif"},"encoding":{"x":{"field":"c","type":"nominal","scale":{"domain":["项目","沪深 300","食品饮料","白酒","啤酒","其他酒类","休闲食品","肉制品","调味发酵品","乳品"],"paddingInner":0,"paddingOuter":0},"axis":null},"y":{"field":"r","type":"nominal"},"text":{"field":"v","format":".1f"}}},
  {"transform":[{"aggregate":[{"op":"count","as":"n"}],"groupby":["c"]}],"mark":{"type":"text","fontSize":10.5,"fontWeight":"bold","color":"#111"},"encoding":{"x":{"field":"c","type":"nominal"},"y":{"datum":"h","type":"nominal"},"text":{"field":"c"}}},
  {"transform":[{"aggregate":[{"op":"count","as":"n"}],"groupby":["r"]}],"mark":{"type":"text","fontSize":10.5,"color":"#222","align":"left","dx":-30},"encoding":{"x":{"datum":"项目","type":"nominal"},"y":{"field":"r","type":"nominal"},"text":{"field":"r"}}}
]},
{"width":625,"height":1.5,"data":{"values":[{}]},"mark":{"type":"rect","color":"#555"},"title":{"text":"资料来源：iFinD，中银证券","subtitle":"注：最大、最小值截至日期，现值计算日期均为 2024 年 1 月 12 日","orient":"bottom","baseline":"top","fontWeight":"normal","fontStyle":"italic","fontSize":8.5,"color":"#333","subtitleFont":"Liberation Serif, Noto Sans CJK SC","subtitleFontSize":8.5,"subtitleFontStyle":"italic","subtitleColor":"#333","subtitlePadding":5,"offset":10}},
{"width":1,"height":15,"data":{"values":[{}]},"mark":{"type":"rect","opacity":0}},
{"hconcat":[
 {"width":205,"height":1.5,"data":{"values":[{}]},"mark":{"type":"rect","color":"#b5122e"},"title":{"text":"2024 年 1 月 16 日","orient":"bottom","baseline":"top","fontWeight":"normal","fontSize":11.5,"color":"#111","offset":11}},
 {"width":215,"height":1.5,"data":{"values":[{}]},"mark":{"type":"rect","color":"#b5122e"},"title":{"text":"食品饮料行业周报","anchor":"middle","orient":"bottom","baseline":"top","fontWeight":"normal","fontSize":11.5,"color":"#111","offset":11}},
 {"width":205,"height":1.5,"data":{"values":[{}]},"mark":{"type":"rect","color":"#b5122e"},"title":{"text":"5","anchor":"end","orient":"bottom","baseline":"top","fontWeight":"normal","fontSize":11.5,"color":"#111","offset":11}}
],"spacing":0}
]
}
